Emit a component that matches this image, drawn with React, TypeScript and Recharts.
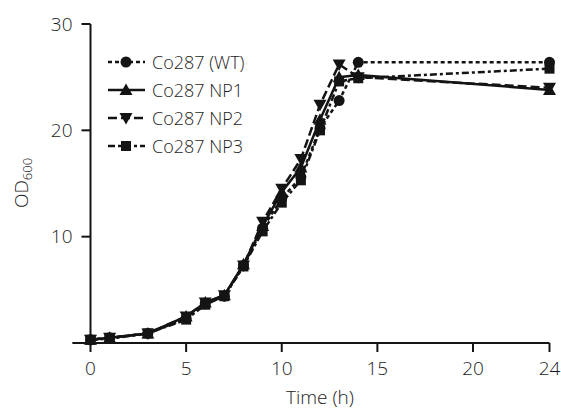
import React from "react";
import { LineChart, Line, XAxis, YAxis, ReferenceLine } from "recharts";

const times = [0, 1, 3, 5, 6, 7, 8, 9, 10, 11, 12, 13, 14, 24];
const wt = [0.3, 0.5, 0.9, 2.3, 3.7, 4.4, 7.3, 10.8, 13.6, 15.6, 20.2, 22.8, 26.4, 26.4];
const np1 = [0.3, 0.5, 0.9, 2.5, 3.8, 4.5, 7.4, 11.0, 14.2, 16.5, 21.0, 25.0, 25.2, 23.8];
const np2 = [0.3, 0.5, 0.9, 2.5, 3.8, 4.5, 7.3, 11.4, 14.5, 17.3, 22.4, 26.2, 25.0, 24.0];
const np3 = [0.3, 0.4, 0.9, 2.2, 3.6, 4.4, 7.2, 10.5, 13.2, 15.3, 20.0, 24.6, 24.9, 25.8];
const xTicks = [0, 5, 10, 15, 20, 24];
const yTicks = [10, 20, 30];

const INK = "#141414";
const TEXT = "#1c1c1c";
const FONT = "'Open Sans', sans-serif";
const WEIGHT = 300;

type Shape = "circle" | "up" | "down" | "square";

const series: { key: string; name: string; dash?: string; shape: Shape }[] = [
    { key: "wt", name: "Co287 (WT)", dash: "4 3", shape: "circle" },
    { key: "np1", name: "Co287 NP1", shape: "up" },
    { key: "np2", name: "Co287 NP2", dash: "9 4", shape: "down" },
    { key: "np3", name: "Co287 NP3", dash: "7 3 3 3", shape: "square" },
];

const data = times.map((t, i) => ({ t, wt: wt[i], np1: np1[i], np2: np2[i], np3: np3[i] }));

function marker(shape: Shape, cx: number, cy: number, key?: string) {
    if (shape === "circle") return <circle key={key} cx={cx} cy={cy} r={5.5} fill={INK} />;
    if (shape === "square") return <rect key={key} x={cx - 5} y={cy - 5} width={10} height={10} fill={INK} />;
    if (shape === "up")
        return <polygon key={key} points={`${cx},${cy - 6.5} ${cx + 6.5},${cy + 5} ${cx - 6.5},${cy + 5}`} fill={INK} />;
    return <polygon key={key} points={`${cx},${cy + 6.5} ${cx + 6.5},${cy - 5} ${cx - 6.5},${cy - 5}`} fill={INK} />;
}

const dotFor = (shape: Shape) => (props: any) => {
    const { cx, cy, index } = props;
    return marker(shape, cx, cy, `${shape}-${index}`);
};

// legend drawn as an overlay so it doesn't shrink the plot
const LegendBox = () => (
    <div style={{ position: "absolute", left: 106, top: 48, fontFamily: FONT, fontWeight: WEIGHT, fontSize: 18, color: TEXT }}>
        {series.map((s) => (
            <div key={s.key} style={{ display: "flex", alignItems: "center", height: 28 }}>
                <svg width={40} height={16} style={{ marginRight: 6 }}>
                    <line x1={2} y1={8} x2={39} y2={8} stroke={INK} strokeWidth={2.5} strokeDasharray={s.dash} />
                    {marker(s.shape, 20, 8)}
                </svg>
                <span>{s.name}</span>
            </div>
        ))}
    </div>
);

const OdLabel = () => (
    <text x={28} y={183} transform="rotate(-90, 28, 183)" textAnchor="middle"
        fontFamily={FONT} fontWeight={WEIGHT} fontSize={19} fill={TEXT}>
        OD<tspan fontSize={13} dy={4}>600</tspan>
    </text>
);

const tickStyle = { fill: TEXT, fontSize: 19, fontFamily: FONT, fontWeight: WEIGHT };

export default function App() {
    return (
        <div style={{ position: "absolute", left: 0, top: 0, width: 561, height: 411 }}>
            <LineChart width={561} height={411} data={data}
                margin={{ top: 24, right: 11.5, bottom: 0, left: 0 }}>
                <XAxis
                    type="number"
                    dataKey="t"
                    domain={[0, 24]}
                    ticks={xTicks}
                    tickSize={9}
                    tickMargin={10}
                    height={68}
                    axisLine={{ stroke: INK, strokeWidth: 2 }}
                    tickLine={{ stroke: INK, strokeWidth: 2 }}
                    tick={tickStyle}
                    label={{ value: "Time (h)", position: "insideBottom", offset: 7, ...tickStyle }}
                />
                <YAxis
                    domain={[0, 30]}
                    ticks={yTicks}
                    width={90.5}
                    tickSize={9}
                    tickMargin={9}
                    axisLine={{ stroke: INK, strokeWidth: 2 }}
                    tickLine={{ stroke: INK, strokeWidth: 2 }}
                    tick={tickStyle}
                    label={<OdLabel />}
                />
                <ReferenceLine
                    segment={[{ x: -0.95, y: 0 }, { x: 0, y: 0 }]}
                    stroke={INK}
                    strokeWidth={2}
                    ifOverflow="visible"
                />
                {series.map((s) => (
                    <Line
                        key={s.key}
                        dataKey={s.key}
                        name={s.name}
                        type="linear"
                        stroke={INK}
                        strokeWidth={2.5}
                        strokeDasharray={s.dash}
                        dot={dotFor(s.shape)}
                        activeDot={false}
                        isAnimationActive={false}
                    />
                ))}
            </LineChart>
            <LegendBox />
        </div>
    );
}
